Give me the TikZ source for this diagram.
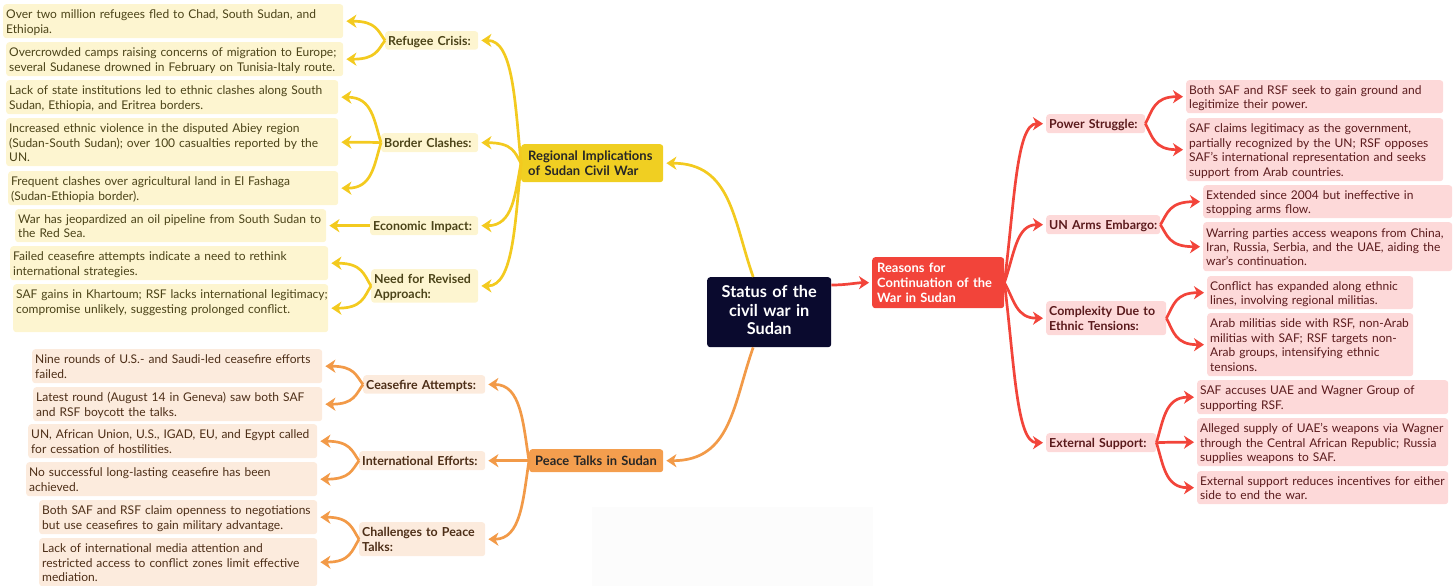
\documentclass[tikz,border=0pt]{standalone}
\usepackage{fontspec}
\setmainfont{Lato}
\usetikzlibrary{arrows.meta,calc}

\definecolor{yline}{HTML}{F3CA1F}
\definecolor{ymain}{HTML}{F0CF22}
\definecolor{yleaf}{HTML}{FDF5D0}
\definecolor{ytext}{HTML}{4B4318}
\definecolor{oline}{HTML}{F29A48}
\definecolor{omain}{HTML}{F49E4E}
\definecolor{oleaf}{HTML}{FCEBDD}
\definecolor{otext}{HTML}{4D2E17}
\definecolor{rline}{HTML}{F2443A}
\definecolor{rmain}{HTML}{F2443A}
\definecolor{rleaf}{HTML}{FDD9D9}
\definecolor{rtext}{HTML}{5A1A1C}
\definecolor{navy}{HTML}{0A0A2E}
\definecolor{haze}{HTML}{FCFCFC}

% box from its corners: [padding]{style}{name}{x1}{y1}{x2}{y2}{lines}
% the lines sit in one tabular so that they are never re-wrapped;
% the tall first-row rule lowers the text a little inside the box
\newcommand\mbxcol{l}
\newcommand\mbx[8][3]{%
  \pgfmathsetmacro\mbw{#6-#4}%
  \pgfmathsetmacro\mbh{#7-#5}%
  \pgfmathsetmacro\mtw{#6-#4-2*#1}%
  \node[#2, inner xsep=#1pt, minimum width=\mbw pt, minimum height=\mbh pt,
        text width=\mtw pt] (#3) at (#4,#5)
        {\begin{tabular}[t]{@{}\mbxcol@{}}\rule{0pt}{14pt}#8\end{tabular}};}

\tikzset{
  base/.style={anchor=north west, rounded corners=3pt, inner ysep=0pt,
               align=left, font=\fontsize{12}{14.4}\selectfont},
  ybox/.style={base, fill=yleaf, text=ytext},
  obox/.style={base, fill=oleaf, text=otext},
  rbox/.style={base, fill=rleaf, text=rtext},
  labfont/.style={font=\bfseries\fontsize{12.4}{15}\selectfont},
  ylab/.style={ybox, labfont},
  olab/.style={obox, labfont},
  rlab/.style={rbox, labfont},
  link/.style={line width=2.7pt,
               -{Stealth[length=10pt,width=13pt,inset=3pt]}, shorten >=3pt},
  yl/.style={link, draw=yline},
  ol/.style={link, draw=oline},
  rl/.style={link, draw=rline},
  lbr/.style={to path={let \p1=(\tikztostart), \p2=(\tikztotarget) in
      .. controls (\x1-#1, {0.5*(\y1+\y2)}) and (\x1-#1-2pt, \y2) .. (\tikztotarget)}},
  rbr/.style={to path={let \p1=(\tikztostart), \p2=(\tikztotarget) in
      .. controls (\x1+#1, {0.5*(\y1+\y2)}) and (\x1+#1+2pt, \y2) .. (\tikztotarget)}},
}

\begin{document}
\begin{tikzpicture}[x=1pt, y=-1pt]
\useasboundingbox (0,0) rectangle (1456,586);
\fill[haze] (592,507) rectangle (873,586);

% central topic
{\renewcommand\mbxcol{c}%
\mbx[4]{base, fill=navy, text=white, align=center,
  font=\bfseries\fontsize{16.3}{18.5}\selectfont}{ctr}{707}{277}{831}{347}
  {Status of the\\civil war in\\Sudan}}

% main branches
\mbx[7]{base, fill=ymain, text=black!85,
  font=\bfseries\fontsize{13}{15}\selectfont}{reg}{521}{144}{663}{182}
  {Regional Implications\\of Sudan Civil War}
\mbx[6]{base, fill=omain, text=black!85,
  font=\bfseries\fontsize{12.9}{15}\selectfont}{peace}{529}{449}{663}{472}
  {Peace Talks in Sudan}
\mbx[5]{base, fill=rmain, text=white,
  font=\bfseries\fontsize{12.9}{15}\selectfont}{rs}{872}{257}{1004}{308}
  {Reasons for\\Continuation of the\\War in Sudan}

% regional implications
\mbx[3]{ylab}{rc}{385}{31}{478}{49}{Refugee Crisis:}
\mbx[3]{ylab}{bc}{381}{133}{478}{152}{Border Clashes:}
\mbx[3]{ylab}{ei}{370}{216}{478}{235}{Economic Impact:}
\mbx[3]{ylab}{nr}{371}{269}{478}{302}{Need for Revised\\Approach:}

\mbx{ybox}{y1}{3}{4}{343}{38}{Over two million refugees fled to Chad, South Sudan, and\\Ethiopia.}
\mbx{ybox}{y2}{6}{42}{343}{76}{Overcrowded camps raising concerns of migration to Europe;\\several Sudanese drowned in February on Tunisia-Italy route.}
\mbx{ybox}{y3}{6}{80}{338}{114}{Lack of state institutions led to ethnic clashes along South\\Sudan, Ethiopia, and Eritrea borders.}
\mbx{ybox}{y4}{6}{118}{338}{166}{Increased ethnic violence in the disputed Abiey region\\(Sudan-South Sudan); over 100 casualties reported by the\\UN.}
\mbx{ybox}{y5}{8}{171}{338}{205}{Frequent clashes over agricultural land in El Fashaga\\(Sudan-Ethiopia border).}
\mbx{ybox}{y6}{15}{209}{326}{242}{War has jeopardized an oil pipeline from South Sudan to\\the Red Sea.}
\mbx{ybox}{y7}{10}{246}{328}{280}{Failed ceasefire attempts indicate a need to rethink\\international strategies.}
\mbx{ybox}{y8}{13}{284}{328}{332}{SAF gains in Khartoum; RSF lacks international legitimacy;\\compromise unlikely, suggesting prolonged conflict.\\\strut}

% peace talks
\mbx[3]{olab}{ca}{363}{375}{485}{393}{Ceasefire Attempts:}
\mbx[3]{olab}{ie}{359}{451}{485}{470}{International Efforts:}
\mbx[3]{olab}{cp}{359}{522}{485}{556}{Challenges to Peace\\Talks:}

\mbx{obox}{o1}{32}{349}{322}{383}{Nine rounds of U.S.- and Saudi-led ceasefire efforts\\failed.}
\mbx{obox}{o2}{33}{387}{322}{421}{Latest round (August 14 in Geneva) saw both SAF\\and RSF boycott the talks.}
\mbx{obox}{o3}{28}{424}{317}{458}{UN, African Union, U.S., IGAD, EU, and Egypt called\\for cessation of hostilities.}
\mbx{obox}{o4}{26}{462}{317}{496}{No successful long-lasting ceasefire has been\\achieved.}
\mbx{obox}{o5}{39}{500}{317}{534}{Both SAF and RSF claim openness to negotiations\\but use ceasefires to gain military advantage.}
\mbx{obox}{o6}{39}{538}{317}{586}{Lack of international media attention and\\restricted access to conflict zones limit effective\\mediation.}

% reasons for continuation
\mbx[3]{rlab}{ps}{1046}{114}{1145}{133}{Power Struggle:}
\mbx[3]{rlab}{ue}{1046}{215}{1160}{234}{UN Arms Embargo:}
\mbx[3]{rlab}{ce}{1046}{301}{1166}{335}{Complexity Due to\\Ethnic Tensions:}
\mbx[3]{rlab}{es}{1046}{433}{1156}{452}{External Support:}

\mbx{rbox}{r1}{1186}{80}{1443}{113}{Both SAF and RSF seek to gain ground and\\legitimize their power.}
\mbx{rbox}{r2}{1186}{118}{1443}{181}{SAF claims legitimacy as the government,\\partially recognized by the UN; RSF opposes\\SAF's international representation and seeks\\support from Arab countries.}
\mbx{rbox}{r3}{1203}{185}{1452}{218}{Extended since 2004 but ineffective in\\stopping arms flow.}
\mbx{rbox}{r4}{1203}{222}{1452}{271}{Warring parties access weapons from China,\\Iran, Russia, Serbia, and the UAE, aiding the\\war's continuation.}
\mbx{rbox}{r5}{1207}{276}{1413}{309}{Conflict has expanded along ethnic\\lines, involving regional militias.}
\mbx{rbox}{r6}{1207}{313}{1413}{376}{Arab militias side with RSF, non-Arab\\militias with SAF; RSF targets non-\\Arab groups, intensifying ethnic\\tensions.}
\mbx{rbox}{r7}{1197}{380}{1448}{414}{SAF accuses UAE and Wagner Group of\\supporting RSF.}
\mbx{rbox}{r8}{1197}{418}{1448}{466}{Alleged supply of UAE's weapons via Wagner\\through the Central African Republic; Russia\\supplies weapons to SAF.}
\mbx{rbox}{r9}{1197}{471}{1448}{504}{External support reduces incentives for either\\side to end the war.}

% connectors from the central topic
\draw[yl] ([xshift=-16pt]ctr.north) to[lbr=20pt] (reg.east);
\draw[ol] ([xshift=-16pt]ctr.south) to[lbr=20pt] (peace.east);
\draw[rl] ([yshift=-8pt]ctr.north east) to[out=0, in=180] (rs.west);

% regional implications
\foreach \t in {rc,bc,ei,nr} \draw[yl] (reg.west) to[lbr=6pt] (\t.east);
\foreach \t in {y1,y2} \draw[yl] (rc.west) to[lbr=7pt] (\t.east);
\foreach \t in {y3,y4,y5} \draw[yl] (bc.west) to[lbr=7pt] (\t.east);
\draw[yl] (ei.west) to[lbr=7pt] (y6.east);
\foreach \t in {y7,y8} \draw[yl] (nr.west) to[lbr=7pt] (\t.east);

% peace talks
\foreach \t in {ca,ie,cp} \draw[ol] (peace.west) to[lbr=6pt] (\t.east);
\foreach \t in {o1,o2} \draw[ol] (ca.west) to[lbr=7pt] (\t.east);
\foreach \t in {o3,o4} \draw[ol] (ie.west) to[lbr=7pt] (\t.east);
\foreach \t in {o5,o6} \draw[ol] (cp.west) to[lbr=7pt] (\t.east);

% reasons for continuation
\foreach \t in {ps,ue,ce,es} \draw[rl] (rs.east) to[rbr=10pt] (\t.west);
\foreach \t in {r1,r2} \draw[rl] (ps.east) to[rbr=7pt] (\t.west);
\foreach \t in {r3,r4} \draw[rl] (ue.east) to[rbr=7pt] (\t.west);
\foreach \t in {r5,r6} \draw[rl] (ce.east) to[rbr=7pt] (\t.west);
\foreach \t in {r7,r8,r9} \draw[rl] (es.east) to[rbr=7pt] (\t.west);
\end{tikzpicture}
\end{document}
